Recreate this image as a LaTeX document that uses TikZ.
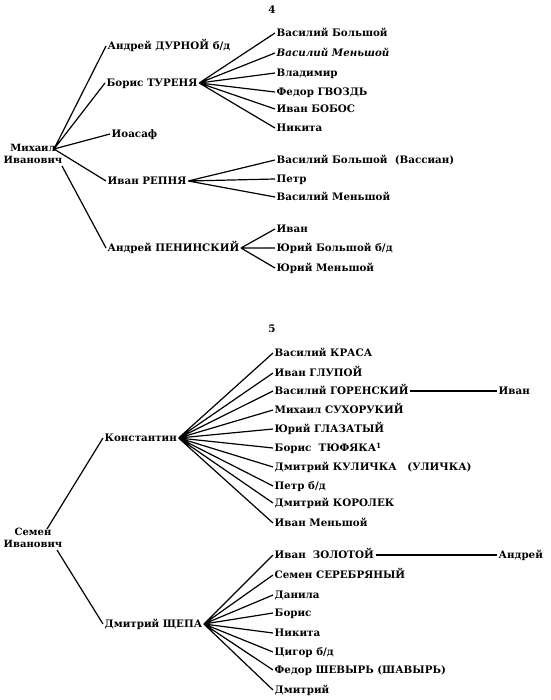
\documentclass[tikz,border=0pt]{standalone}
\usepackage{fontspec}
\setmainfont{DejaVu Serif}

\begin{document}
\begin{tikzpicture}[x=1pt,y=-1pt,
    person/.style={anchor=west,inner sep=1.5pt,text height=7.5pt,text depth=0pt,
      font=\bfseries\fontsize{10.3}{12}\selectfont},
    root/.style={align=center,inner sep=1pt,font=\bfseries\fontsize{10}{11.5}\selectfont},
    link/.style={line width=1.2pt}]
    \useasboundingbox (0,0) rectangle (550,700);

    % Table 4
    \node[person,anchor=center] (t4) at (272,10) {4};
    \node[root] (mih) at (33,154) {Михаил\\Иванович};
    \coordinate (m4) at (54,149);
    \coordinate (m4b) at (62,166);

    % Sons of Mikhail
    \node[person] (adur) at (106,46) {Андрей ДУРНОЙ б/д};
    \node[person] (btur) at (105,83) {Борис ТУРЕНЯ};
    \node[person] (ioas) at (110,134) {Иоасаф};
    \node[person] (irep) at (106,181) {Иван РЕПНЯ};
    \node[person] (apen) at (106,248) {Андрей ПЕНИНСКИЙ};

    % Sons of Boris
    \node[person] (vbol) at (275,33) {Василий Большой};
    \node[person] (vmen) at (275,53) {\itshape Василий Меньшой};
    \node[person] (vlad) at (275,73) {Владимир};
    \node[person] (fgvo) at (275,92) {Федор ГВОЗДЬ};
    \node[person] (ibob) at (275,109) {Иван БОБОС};
    \node[person] (nik4) at (275,128) {Никита};

    % Sons of Ivan Repnya
    \node[person] (vbas) at (275,160) {Василий Большой \ (Вассиан)};
    \node[person] (petr4) at (275,179) {Петр};
    \node[person] (vme2) at (275,197) {Василий Меньшой};

    % Sons of Andrei Peninsky
    \node[person] (ivan4) at (275,229) {Иван};
    \node[person] (ybol) at (275,248) {Юрий Большой б/д};
    \node[person] (ymen) at (275,268) {Юрий Меньшой};

    \draw[link] (m4) -- (adur.west) (m4) -- (btur.west) (m4) -- (ioas.west)
      (m4) -- (irep.west) (m4b) -- (apen.west);
    \draw[link] (btur.east) -- (vbol.west) (btur.east) -- (vmen.west)
      (btur.east) -- (vlad.west) (btur.east) -- (fgvo.west)
      (btur.east) -- (ibob.west) (btur.east) -- (nik4.west);
    \draw[link] (irep.east) -- (vbas.west) (irep.east) -- (petr4.west)
      (irep.east) -- (vme2.west);
    \draw[link] (apen.east) -- (ivan4.west) (apen.east) -- (ybol.west)
      (apen.east) -- (ymen.west);

    % Table 5
    \node[person,anchor=center] (t5) at (272,329) {5};
    \node[root] (sem) at (33,538) {Семен\\Иванович};
    \coordinate (s5) at (47,529);
    \coordinate (s5b) at (57,550);

    % Sons of Semen
    \node[person] (kons) at (103,438) {Константин};
    \node[person] (dshe) at (103,624) {Дмитрий ЩЕПА};

    % Sons of Konstantin
    \node[person] (vkra) at (273,353) {Василий КРАСА};
    \node[person] (iglu) at (273,373) {Иван ГЛУПОЙ};
    \node[person] (vgor) at (273,391) {Василий ГОРЕНСКИЙ};
    \node[person] (msuh) at (273,410) {Михаил СУХОРУКИЙ};
    \node[person] (ygla) at (273,429) {Юрий ГЛАЗАТЫЙ};
    \node[person] (btyu) at (273,448) {Борис \ ТЮФЯКА\textsuperscript{1}};
    \node[person] (dkul) at (273,467) {Дмитрий КУЛИЧКА \ \ (УЛИЧКА)};
    \node[person] (petr5) at (273,486) {Петр б/д};
    \node[person] (dkor) at (273,503) {Дмитрий КОРОЛЕК};
    \node[person] (imen) at (273,523) {Иван Меньшой};
    \node[person] (ivgor) at (497,391) {Иван};

    % Sons of Dmitry Shchepa
    \node[person] (izol) at (273,555) {Иван \ ЗОЛОТОЙ};
    \node[person] (sser) at (273,575) {Семен СЕРЕБРЯНЫЙ};
    \node[person] (dani) at (273,595) {Данила};
    \node[person] (bor5) at (273,613) {Борис};
    \node[person] (nik5) at (273,633) {Никита};
    \node[person] (tsig) at (273,652) {Цигор б/д};
    \node[person] (fshe) at (273,670) {Федор ШЕВЫРЬ (ШАВЫРЬ)};
    \node[person] (dmit) at (273,690) {Дмитрий};
    \node[person] (andz) at (497,555) {Андрей};

    \draw[link] (s5) -- (kons.west) (s5b) -- (dshe.west);
    \draw[link] (kons.east) -- (vkra.west) (kons.east) -- (iglu.west)
      (kons.east) -- (vgor.west) (kons.east) -- (msuh.west)
      (kons.east) -- (ygla.west) (kons.east) -- (btyu.west)
      (kons.east) -- (dkul.west) (kons.east) -- (petr5.west)
      (kons.east) -- (dkor.west) (kons.east) -- (imen.west);
    \draw[link] (vgor.east) -- (ivgor.west);
    \draw[link] (dshe.east) -- (izol.west) (dshe.east) -- (sser.west)
      (dshe.east) -- (dani.west) (dshe.east) -- (bor5.west)
      (dshe.east) -- (nik5.west) (dshe.east) -- (tsig.west)
      (dshe.east) -- (fshe.west) (dshe.east) -- (dmit.west);
    \draw[link] (izol.east) -- (andz.west);

\end{tikzpicture}
\end{document}
